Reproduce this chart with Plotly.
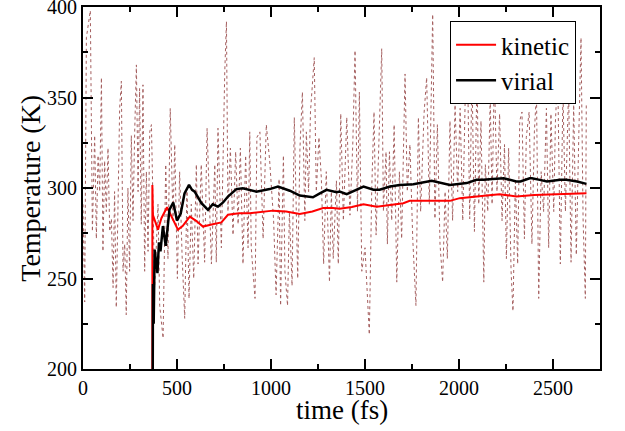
import plotly.graph_objects as go

# Instantaneous temperature (dotted, extrema)
noise_t = [0, 9, 18, 39, 50, 62, 71, 80, 89, 98, 106, 115, 124, 133, 142, 151, 160, 168, 177, 186, 195,
           204, 209, 213, 222, 230, 239, 248, 257, 266, 275, 284, 293, 301, 310, 319, 328, 337, 346,
           355, 364, 381, 399, 408, 426, 440, 452, 464, 479, 488, 502, 514, 527, 541, 553, 564, 576,
           589, 603, 612, 629, 647, 660, 677,
           683, 701, 709, 718, 736, 754, 763, 771, 784, 798, 812, 825, 837, 851, 865, 878, 887, 895,
           915, 925, 941, 958, 975, 993, 1014, 1027, 1043, 1051, 1066, 1074, 1088, 1098, 1112, 1124,
           1142, 1154, 1167, 1180, 1188, 1200, 1210, 1230, 1241, 1255, 1268, 1280, 1294, 1311, 1321, 1331, 1348,
           1358, 1371, 1385, 1403, 1420, 1435, 1447, 1460, 1470, 1483, 1500, 1513, 1523, 1536, 1548,
           1559, 1576, 1589, 1598, 1612, 1619, 1630, 1642, 1655, 1669, 1683, 1695, 1713, 1725, 1739,
           1754, 1771, 1784, 1796, 1814, 1828, 1842, 1860, 1872, 1885, 1899, 1913, 1926, 1938, 1952,
           1966, 1979, 1993, 2006, 2020,
           2034, 2046, 2057, 2069, 2082, 2096, 2105, 2117, 2132, 2140, 2153, 2166, 2176, 2188, 2202,
           2216, 2229, 2242, 2252, 2264, 2277, 2287, 2300, 2312, 2323, 2335, 2348, 2358, 2373, 2388,
           2401, 2412, 2424, 2437, 2450, 2465, 2477, 2489, 2504, 2513, 2525, 2539, 2553, 2566, 2583,
           2596, 2610, 2624, 2637, 2649, 2660, 2672, 2677]
noise_T = [291, 237, 383, 398, 276, 329, 272, 318, 298, 361, 265, 315, 287, 322, 276, 283, 245, 298, 234, 282,
           344, 359, 280, 254, 269, 230, 300, 254, 329, 282, 331, 368, 298, 355, 280, 357, 254, 309, 265,
           331, 335, 245, 291, 235, 217, 313, 261, 344, 282, 324, 250, 309, 263, 228, 300, 239, 291,
           250, 313, 258, 313, 259, 333, 267,
           258, 313, 259, 333, 267, 364, 392, 287, 322, 274, 320, 280, 322, 258, 318, 267, 331, 267,
           239, 328, 331, 272, 335, 315, 282, 241, 305, 235, 318, 254, 235, 287, 246, 339,
           250, 322, 353, 282, 331, 298, 342, 372, 298, 328, 305, 258, 309, 248, 298, 261, 304,
           258, 341, 282, 339, 285, 324, 376, 287, 353, 254, 267, 235, 219, 300, 342,
           274, 328, 377, 287, 320, 269, 320, 282, 335, 248, 309, 272, 363, 298, 324,
           272, 235, 339, 287, 341, 361, 291, 396, 283, 335, 269, 248, 298, 261, 337,
           282, 346, 298, 344, 282,
           355, 364, 283, 364, 276, 364, 291, 337, 248, 313, 287, 350, 291, 364, 298,
           341, 282, 324, 261, 322, 254, 232, 305, 258, 337, 342, 272, 328, 342, 269,
           331, 353, 239, 309, 287, 344, 267, 341, 287, 337, 364, 258, 353, 287, 355,
           259, 346, 263, 328, 383, 283, 239, 346, 250, 313]

# Running averages (solid)
kin_t = [369, 369, 372, 399, 417, 447, 479, 505, 530, 568, 600, 638, 690, 736, 771, 830, 887, 993,
         1011, 1080, 1153, 1220, 1277, 1330, 1365, 1430, 1492, 1562, 1630, 1704, 1738, 1846, 1952,
         2004, 2041, 2100, 2160, 2216, 2305, 2400, 2500, 2600, 2678]
kin_T = [200, 301.7, 285, 277, 283.3, 289.4, 282.4, 277, 279, 284.2, 282, 278.7, 280, 281, 285.2, 286,
         286.1, 287.5, 287.5, 287, 285.7, 287, 288.9, 288.9, 288.5, 289.5, 291, 289.7, 290.5, 291.6,
         292.9, 293.1, 292.9, 294.4, 294.7, 295.5, 296, 296.6, 295.3, 296.2, 296.6, 297, 297.1]

vir_t = [371, 372, 376, 381, 388, 396, 404, 412, 425, 440, 460, 480, 500, 520, 540, 564, 580, 594,
         630, 665, 690, 718, 745, 771, 816, 850, 922, 993, 1037, 1100, 1153, 1223, 1260, 1295, 1349,
         1365, 1403, 1440, 1492, 1545, 1578, 1633, 1685, 1757, 1800, 1855, 1952, 2000, 2041, 2093,
         2131, 2180, 2216, 2238, 2305, 2327, 2376, 2388, 2430, 2468, 2539, 2571, 2628, 2678]
vir_T = [200, 247, 225, 266, 260, 253, 270, 265, 279, 268, 288, 292, 282, 286, 297, 301.7, 299, 298,
         291.6, 287.9, 291, 289.7, 292, 295.3, 299.4, 299.9, 298, 299.4, 300.8, 298.5, 295.8, 294.9,
         297, 299, 297.7, 298, 296.6, 298.5, 300.8, 299, 299, 300.8, 301.7, 302.1, 303, 304,
         301.7, 302.2, 302.7, 304.5, 304.5, 305, 305.4, 305.4, 303.6, 303.6, 305.4, 305.4, 304.5,
         303.6, 304.5, 304.5, 303.6, 302.3]

serif = "Liberation Serif"

fig = go.Figure()
fig.add_trace(go.Scatter(x=noise_t, y=noise_T, mode="lines", showlegend=False,
                         line=dict(color="rgb(165,95,95)", width=1, dash="dot")))
fig.add_trace(go.Scatter(x=kin_t, y=kin_T, mode="lines", name="kinetic",
                         line=dict(color="red", width=2)))
fig.add_trace(go.Scatter(x=vir_t, y=vir_T, mode="lines", name="virial",
                         line=dict(color="black", width=2.5)))

axis_common = dict(showgrid=False, zeroline=False, showline=True, linecolor="black", linewidth=2,
                   mirror="allticks", ticks="inside", ticklen=10, tickwidth=1.5, tickcolor="black",
                   automargin=False, ticklabeloverflow="allow",
                   tickfont=dict(family=serif, size=20, color="black"))

fig.update_layout(
    width=625, height=431,
    margin=dict(l=83, r=25, t=7, b=62, autoexpand=False),
    paper_bgcolor="white", plot_bgcolor="white",
    font=dict(family=serif, color="black"),
    xaxis=dict(range=[0, 2750], tick0=0, dtick=500,
               minor=dict(ticks="inside", ticklen=5, dtick=250, tickcolor="black", tickwidth=1.5),
               **axis_common),
    yaxis=dict(range=[200, 400], tick0=200, dtick=50,
               minor=dict(ticks="inside", ticklen=5, dtick=25, tickcolor="black", tickwidth=1.5),
               **axis_common),
    legend=dict(x=0.71, y=0.961, xanchor="left", yanchor="top", bgcolor="white",
                bordercolor="black", borderwidth=1,
                font=dict(family=serif, size=25, color="black"),
                tracegroupgap=0, itemwidth=40),
    annotations=[
        dict(text="time (fs)", xref="paper", yref="paper", x=0.5, y=-0.114,
             xanchor="center", yanchor="middle", showarrow=False,
             font=dict(family=serif, size=27, color="black")),
        dict(text="Temperature (K)", xref="paper", yref="paper", x=-0.103, y=0.5,
             xanchor="center", yanchor="middle", showarrow=False, textangle=-90,
             font=dict(family=serif, size=28, color="black")),
    ],
)

fig.write_html("out.html", config={"displayModeBar": False},
               post_script="document.body.style.margin='0';")
